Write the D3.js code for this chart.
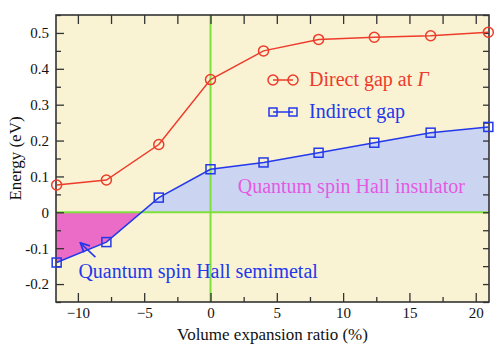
<!DOCTYPE html>
<html>
<head>
<meta charset="utf-8">
<script src="https://cdn.jsdelivr.net/npm/d3@7"></script>
<style>
  body { margin: 0; background: #fff; }
  svg text { font-family: "Liberation Serif", "Tinos", "Times New Roman", "DejaVu Serif", serif; }
</style>
</head>
<body>
<div id="chart"></div>
<script>
// volume expansion ratio (%)
var ratio = [-11.6, -7.85, -3.9, 0, 4.0, 8.15, 12.35, 16.6, 20.95]
// energies (eV)
var directGap = [0.076, 0.090, 0.189, 0.370, 0.450, 0.482, 0.488, 0.492, 0.502]
var indirectGap = [-0.140, -0.083, 0.041, 0.120, 0.139, 0.166, 0.194, 0.222, 0.238]

var xTicks = [-10, -5, 0, 5, 10, 15, 20]
var yTicks = [-0.2, -0.1, 0, 0.1, 0.2, 0.3, 0.4, 0.5]
var yTickLabels = ["-0.2", "-0.1", "0", "0.1", "0.2", "0.3", "0.4", "0.5"]

var fontList = '"Liberation Serif", "Tinos", "Times New Roman", "DejaVu Serif", serif'

var margin = {top: 15, right: 11, bottom: 50, left: 56},
    width = 500 - margin.left - margin.right,
    height = 352 - margin.top - margin.bottom

var svg = d3.select("#chart")
    .append("svg")
    .attr("width", 500)
    .attr("height", 352)
    .append("g")
    .attr("transform", "translate(" + margin.left + "," + margin.top + ")")

var x = d3.scaleLinear().range([0, width]).domain([-11.65, 21.0])
var y = d3.scaleLinear().range([height, 0]).domain([-0.25, 0.55])

var direct = ratio.map(function (r, i) { return {x: r, v: directGap[i]} })
var indirect = ratio.map(function (r, i) { return {x: r, v: indirectGap[i]} })

var red = "#ee3b2b", blue = "#2338ea", green = "#7fe03c"

// background
svg.append("rect").attr("width", width).attr("height", height).attr("fill", "#f9f3d4")

// clip regions above / below zero
var defs = svg.append("defs")
defs.append("clipPath").attr("id", "above")
    .append("rect").attr("x", 0).attr("y", 0).attr("width", width).attr("height", y(0))
defs.append("clipPath").attr("id", "below")
    .append("rect").attr("x", 0).attr("y", y(0)).attr("width", width).attr("height", height - y(0))

var area = d3.area()
    .x(function (d) { return x(d.x) })
    .y0(y(0))
    .y1(function (d) { return y(d.v) })

// extend to the plot edges
var areaData = [{x: x.domain()[0], v: indirectGap[0]}].concat(indirect, [{x: x.domain()[1], v: indirectGap[indirectGap.length - 1]}])

svg.append("path").attr("d", area(areaData)).attr("fill", "#cbd4f1").attr("clip-path", "url(#above)")
svg.append("path").attr("d", area(areaData)).attr("fill", "#ea6cc6").attr("clip-path", "url(#below)")

// green guide lines
svg.append("line").attr("x1", 0).attr("x2", width).attr("y1", y(0)).attr("y2", y(0))
    .attr("stroke", green).attr("stroke-width", 2)
svg.append("line").attr("x1", x(0)).attr("x2", x(0)).attr("y1", 0).attr("y2", height)
    .attr("stroke", green).attr("stroke-width", 2)

// ticks
var frameCol = "#333"
var minorX = d3.range(-10, 21, 2.5)
var minorY = d3.range(-0.25, 0.551, 0.05)

var bottom = d3.axisBottom(x).tickValues(xTicks).tickSize(-9).tickPadding(5).tickFormat(d3.format("d"))
var gb = svg.append("g").attr("transform", "translate(0," + height + ")").call(bottom)
gb.append("g").call(d3.axisBottom(x).tickValues(minorX.filter(function (d) { return d % 5 != 0 })).tickSize(-5).tickFormat(""))
var left = d3.axisLeft(y).tickValues(yTicks).tickSize(-8).tickPadding(7)
    .tickFormat(function (d, i) { return yTickLabels[i] })
var gl = svg.append("g").call(left)
gl.append("g").call(d3.axisLeft(y).tickValues(minorY.filter(function (d) { return Math.abs(Math.round(d * 100) % 10) == 5 })).tickSize(-5).tickFormat(""))
svg.append("g").call(d3.axisTop(x).tickValues(minorX).tickSize(-9).tickFormat(""))
svg.append("g").attr("transform", "translate(" + width + ",0)")
    .call(d3.axisRight(y).tickValues(minorY).tickSize(-6).tickFormat(""))

svg.selectAll(".domain").remove()
svg.selectAll("g").attr("font-family", null)
svg.selectAll(".tick line").attr("stroke", frameCol).attr("stroke-width", 1.3)
svg.selectAll(".tick text").attr("fill", "#111").style("font-size", "15px")
    .style("font-family", fontList)

// frame
svg.append("rect").attr("width", width).attr("height", height)
    .attr("fill", "none").attr("stroke", frameCol).attr("stroke-width", 1.6)

// data lines
var line = d3.line().x(function (d) { return x(d.x) }).y(function (d) { return y(d.v) })

svg.append("path").attr("d", line(direct)).attr("fill", "none").attr("stroke", red).attr("stroke-width", 1.5)
svg.append("path").attr("d", line(indirect)).attr("fill", "none").attr("stroke", blue).attr("stroke-width", 1.5)

svg.selectAll(".circ").data(direct).enter().append("circle")
    .attr("cx", function (d) { return x(d.x) })
    .attr("cy", function (d) { return y(d.v) })
    .attr("r", 5).attr("fill", "none").attr("stroke", red).attr("stroke-width", 1.5)

svg.selectAll(".sq").data(indirect).enter().append("rect")
    .attr("x", function (d) { return x(d.x) - 4.5 })
    .attr("y", function (d) { return y(d.v) - 4.5 })
    .attr("width", 9).attr("height", 9)
    .attr("fill", "none").attr("stroke", blue).attr("stroke-width", 1.5)

// legend
var lg = svg.append("g").attr("transform", "translate(" + (273 - margin.left) + "," + (80 - margin.top) + ")")
lg.append("line").attr("x1", 0).attr("x2", 20).attr("stroke", red).attr("stroke-width", 1.5)
lg.selectAll(".lc").data([0, 20]).enter().append("circle").attr("cx", function (d) { return d }).attr("r", 5)
    .attr("fill", "none").attr("stroke", red).attr("stroke-width", 1.5)
var t1 = lg.append("text").attr("x", 36).attr("y", 6).attr("fill", red).style("font-size", "20px").style("font-family", fontList)
t1.append("tspan").text("Direct gap at ")
t1.append("tspan").style("font-style", "italic").text("\u0393")

var lg2 = svg.append("g").attr("transform", "translate(" + (273 - margin.left) + "," + (112 - margin.top) + ")")
lg2.append("line").attr("x1", 0).attr("x2", 20).attr("stroke", blue).attr("stroke-width", 1.5)
lg2.selectAll(".ls").data([0, 20]).enter().append("rect").attr("x", function (d) { return d - 4 }).attr("y", -4)
    .attr("width", 8).attr("height", 8)
    .attr("fill", "none").attr("stroke", blue).attr("stroke-width", 1.5)
lg2.append("text").attr("x", 36).attr("y", 6).attr("fill", blue).style("font-size", "20px")
    .style("font-family", fontList).text("Indirect gap")

// annotations
svg.append("text").attr("x", x(2.05)).attr("y", y(0.054)).attr("fill", "#e45ae4")
    .style("font-size", "20px").style("font-family", fontList).text("Quantum spin Hall insulator")
svg.append("text").attr("x", x(-9.96)).attr("y", y(-0.183)).attr("fill", blue)
    .style("font-size", "20px").style("font-family", fontList).text("Quantum spin Hall semimetal")

defs.append("marker").attr("id", "arrow").attr("viewBox", "0 0 10 10")
    .attr("refX", 9).attr("refY", 5).attr("markerWidth", 7).attr("markerHeight", 7)
    .attr("orient", "auto")
    .append("path").attr("d", "M1,1 L9,5 L1,9").attr("fill", "none").attr("stroke", blue).attr("stroke-width", 1.6)
svg.append("line")
    .attr("x1", x(-8.68)).attr("y1", y(-0.125))
    .attr("x2", x(-9.81)).attr("y2", y(-0.0855))
    .attr("stroke", blue).attr("stroke-width", 1.6).attr("marker-end", "url(#arrow)")

// axis titles
svg.append("text").attr("x", width / 2).attr("y", 340 - margin.top).attr("text-anchor", "middle")
    .attr("fill", "#111").style("font-size", "17px").style("font-family", fontList).text("Volume expansion ratio (%)")
svg.append("text").attr("transform", "translate(" + (21 - margin.left) + "," + (height / 2) + ") rotate(-90)")
    .attr("text-anchor", "middle").attr("fill", "#111").style("font-size", "17px")
    .style("font-family", fontList).text("Energy (eV)")
</script>
</body>
</html>
